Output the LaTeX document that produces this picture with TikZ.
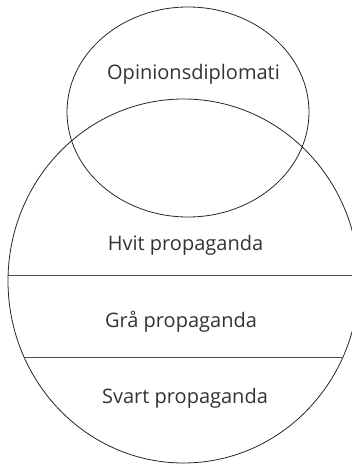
\documentclass[tikz,border=0pt]{standalone}
\usepackage{fontspec}
\setmainfont{Open Sans}
\usetikzlibrary{shapes.geometric}
\begin{document}
\begin{tikzpicture}[x=1pt,y=1pt,
  ring/.style={draw=black!85, line width=0.8pt, ellipse, inner sep=0pt},
  lbl/.style={anchor=base, text=black!80, font=\fontsize{20}{24}\selectfont, inner sep=0pt},
  divider/.style={draw=black!70, line width=0.8pt}]
\useasboundingbox (0,0) rectangle (352,-465);
\node[ring, minimum width=351pt, minimum height=364pt] (prop) at (183.5,-281) {};
\node[ring, minimum width=242pt, minimum height=210pt] (opin) at (188,-112) {};
\node[lbl] (opint) at (193.5,-80) {Opinionsdiplomati};
\node[lbl] (hvit) at (185.5,-250) {Hvit propaganda};
\node[lbl] (gra) at (181,-327) {Grå propaganda};
\node[lbl] (svart) at (185,-403) {Svart propaganda};
\begin{scope}
  \clip (183.5,-281) ellipse (175.5 and 182);
  \coordinate (l1a) at (0,-275);
  \coordinate (l1b) at (360,-275);
  \coordinate (l2a) at (0,-357);
  \coordinate (l2b) at (360,-357);
  \draw[divider] (l1a) -- (l1b);
  \draw[divider] (l2a) -- (l2b);
\end{scope}
\end{tikzpicture}
\end{document}
